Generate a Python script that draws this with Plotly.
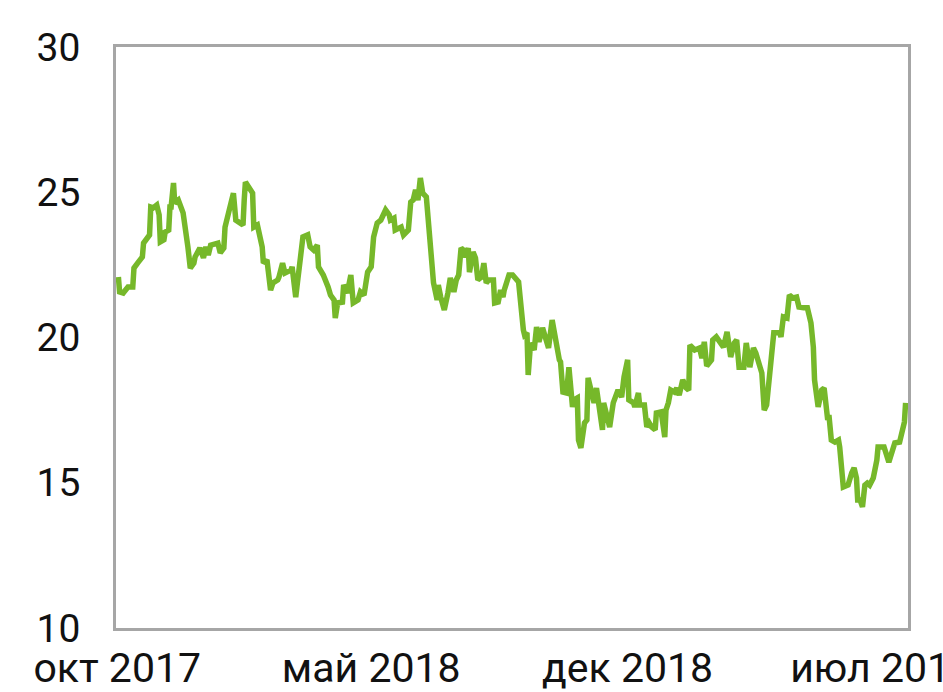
import pandas as pd
import plotly.graph_objects as go

start_date = "2017-10-01"
day_offsets = [1, 2, 5, 9, 13, 14, 17, 21, 22, 27, 28, 30, 33, 35, 36, 39, 40, 43, 44, 45, 47, 48, 51, 54, 55,
               59, 60, 61, 64, 65, 69, 72, 74, 76, 78, 84, 86, 89, 90, 93, 97, 99, 105, 106, 107, 113, 114, 117,
               121, 122, 125, 126, 128, 130, 134, 135, 138, 140, 145, 146, 149, 150, 155, 159, 161, 164, 167, 168,
               172, 176, 178, 181, 182, 184, 188, 189, 192, 195, 197, 201, 203, 206, 209, 212, 214, 217, 220, 224,
               227, 228, 231, 232, 237, 239, 243, 245, 247, 249, 251, 253, 255, 258, 259, 260, 263, 264, 267, 268,
               270, 273, 276, 278, 281, 283, 285, 287, 289, 291, 293, 294, 297, 299, 301, 304, 306, 308, 310, 314,
               315, 318, 320, 322, 323, 327, 330, 333, 335, 339, 340, 342, 343, 345, 348, 350, 352, 355, 360, 363,
               366, 369, 370, 372, 375, 377, 380, 381, 384, 385, 387, 390, 392, 393, 396, 398, 400, 402, 405, 406,
               409, 411, 414, 416, 418, 421, 423, 426, 427, 431, 432, 435, 436, 440, 442, 444, 446, 449, 450, 454,
               457, 458, 460, 462, 465, 467, 469, 471, 472, 475, 477, 478, 482, 486, 488, 490, 492, 496, 497, 500,
               506, 509, 512, 515, 517, 519, 523, 525, 528, 531, 533, 538, 540, 542, 544, 546, 548, 553, 554, 556,
               559, 561, 564, 567, 569, 573, 576, 579, 581, 582, 585, 588, 590, 593, 594, 596, 599, 602, 603, 606,
               610, 613, 615, 617, 618, 620, 622, 624, 626, 628, 631, 634, 635, 639, 640, 644, 646, 649, 653, 655,
               657, 658]
values = [22.08, 21.57, 21.53, 21.74, 21.74, 22.39, 22.56, 22.77, 23.25, 23.53, 24.49, 24.46, 24.56, 24.22, 23.29,
          23.36, 23.63, 23.70, 24.49, 24.49, 25.32, 24.63, 24.73, 24.39, 24.29, 23.12, 22.56, 22.39, 22.56, 22.77,
          23.08, 22.74, 23.12, 22.84, 23.18, 23.25, 22.91, 23.08, 23.80, 24.39, 24.97, 24.04, 23.87, 24.73, 25.35,
          24.97, 23.80, 23.87, 23.12, 22.56, 22.67, 22.32, 21.63, 21.88, 21.98, 22.08, 22.56, 22.22, 22.32, 22.43,
          21.39, 21.74, 23.46, 23.53, 23.12, 23.01, 23.18, 22.43, 22.15, 21.74, 21.46, 21.29, 20.67, 21.19, 21.22,
          21.81, 21.53, 22.15, 21.19, 21.29, 21.57, 21.46, 22.25, 22.43, 23.46, 23.94, 24.04, 24.39, 24.22, 24.04,
          24.11, 23.70, 23.80, 23.53, 23.70, 24.66, 24.73, 25.08, 24.73, 25.49, 24.97, 24.84, 24.32, 24.29, 22.67,
          21.88, 21.29, 21.81, 21.39, 20.95, 21.53, 22.05, 21.57, 21.98, 22.15, 23.08, 23.01, 22.77, 23.08, 22.25,
          22.94, 22.74, 21.98, 22.08, 22.56, 21.88, 21.98, 21.98, 21.19, 21.22, 21.63, 21.39, 21.63, 22.15, 22.15,
          21.98, 21.91, 20.26, 20.09, 20.16, 18.71, 19.81, 19.57, 20.36, 19.85, 20.33, 19.64, 20.60, 19.81, 19.23,
          19.16, 18.12, 18.09, 18.98, 17.61, 17.85, 17.92, 16.47, 16.20, 17.06, 17.16, 18.61, 18.09, 17.75, 18.26,
          17.61, 16.82, 17.75, 17.33, 16.92, 17.75, 18.02, 18.19, 17.95, 18.64, 19.23, 17.85, 17.75, 17.61, 18.09,
          17.68, 17.68, 16.92, 17.06, 16.92, 16.82, 17.40, 17.44, 16.57, 17.50, 17.75, 18.19, 18.12, 18.26, 18.02,
          18.36, 18.54, 18.26, 18.19, 19.74, 19.57, 19.64, 19.29, 19.85, 19.02, 19.23, 19.91, 20.02, 19.67, 20.19,
          19.33, 19.81, 19.91, 18.98, 18.98, 19.81, 18.98, 19.64, 19.47, 18.78, 17.50, 17.68, 18.54, 19.67, 20.16,
          20.16, 20.02, 20.71, 20.67, 21.46, 21.36, 21.39, 21.05, 21.02, 21.02, 20.50, 19.67, 18.54, 17.61, 18.19,
          18.26, 17.16, 17.33, 16.47, 16.40, 16.47, 16.23, 14.85, 14.92, 15.34, 15.51, 15.16, 14.41, 14.41, 14.17,
          14.92, 14.99, 14.92, 15.16, 15.78, 16.23, 16.23, 16.23, 15.71, 16.02, 16.37, 16.40, 16.82, 17.09, 17.75]

x_tick_dates = ["2017-10-01", "2018-05-01", "2018-12-01", "2019-07-01"]
x_tick_labels = ["окт 2017", "май 2018", "дек 2018", "июл 2019"]
y_ticks = [10, 15, 20, 25, 30]

dates = pd.Timestamp(start_date) + pd.to_timedelta(day_offsets, unit="D")

fig = go.Figure()
fig.add_trace(go.Scatter(x=dates, y=values, mode="lines",
                         line=dict(color="#76b82a", width=5.5), hoverinfo="skip"))

fig.update_layout(
    width=943, height=692,
    margin=dict(l=116, r=35, t=47, b=64),
    plot_bgcolor="white", paper_bgcolor="white",
    showlegend=False,
    xaxis=dict(range=["2017-09-30", "2019-07-23"], tickvals=x_tick_dates, ticktext=x_tick_labels,
               showgrid=False, zeroline=False, showline=True, mirror=True, automargin=False,
               ticklabeloverflow="allow",
               linecolor="#a6a6a6", linewidth=2.5, ticks="", ticklen=0, ticklabelstandoff=2,
               tickfont=dict(family="Roboto", size=41, color="#111111")),
    yaxis=dict(range=[10, 30], tickvals=y_ticks, showgrid=False, zeroline=False, automargin=False,
               showline=True, mirror=True, linecolor="#a6a6a6", linewidth=2.5, ticks="",
               ticklabelstandoff=25,
               tickfont=dict(family="Roboto", size=39, color="#111111")),
)

fig.write_html("out.html", config={"displayModeBar": False},
               post_script="document.body.style.margin='0';document.body.style.overflow='hidden';")
